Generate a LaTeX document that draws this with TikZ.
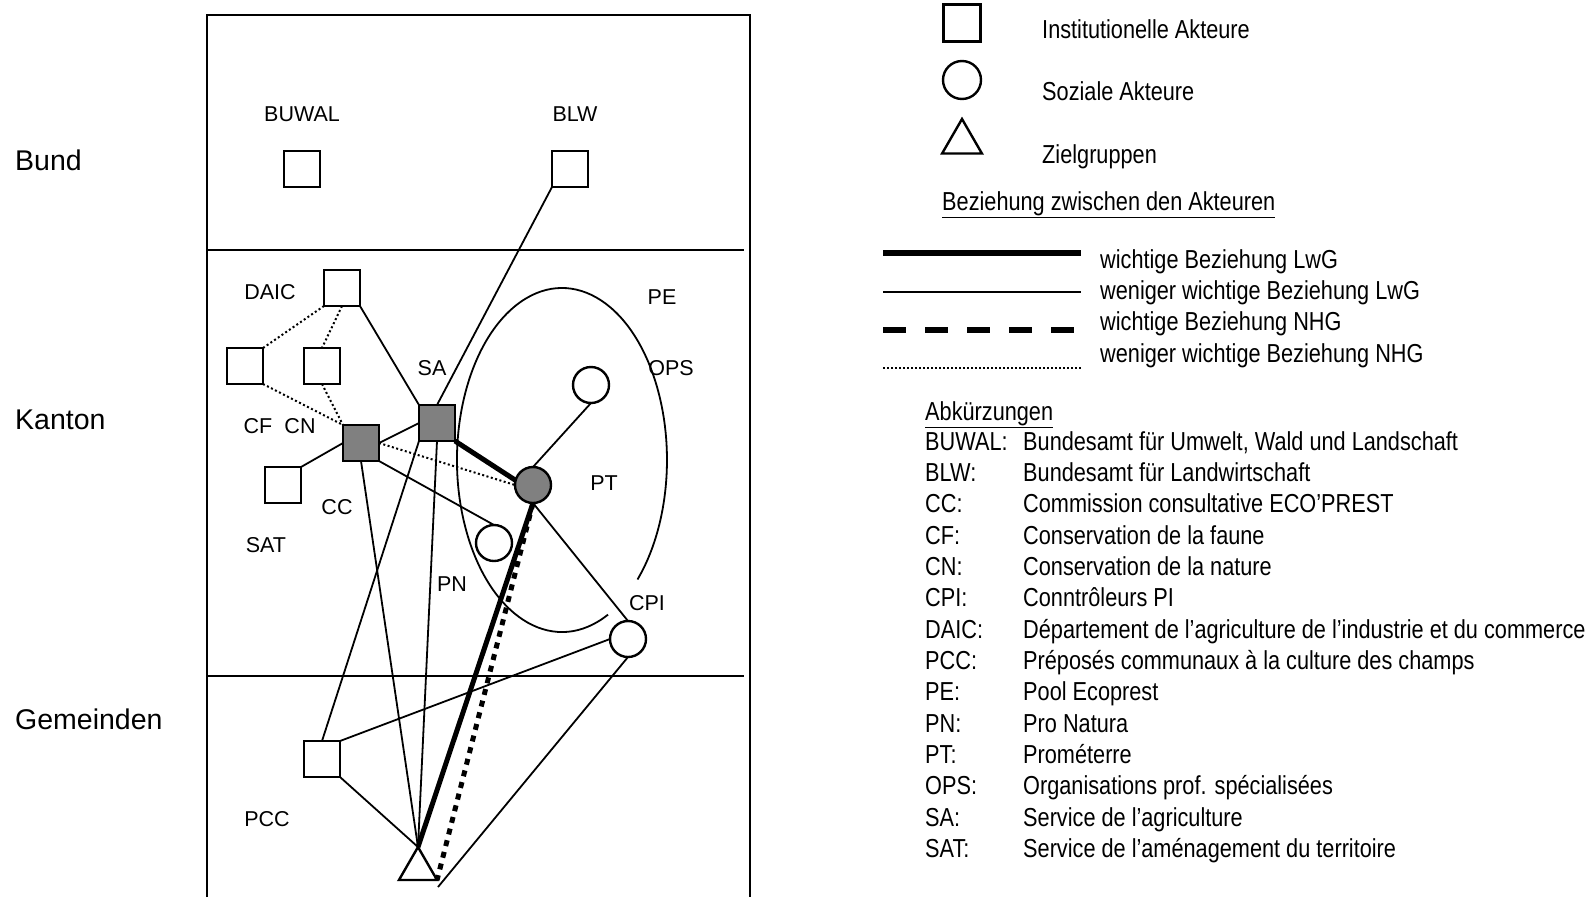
\documentclass[tikz,border=0pt]{standalone}
\usepackage{fontspec}
\setmainfont{Liberation Sans}
\newfontfamily\narrowfont[FakeStretch=0.835]{Liberation Sans}
\usetikzlibrary{shapes.geometric}

\tikzset{
  inst/.style={draw, line width=2.6pt, minimum size=36pt, inner sep=0pt, outer sep=0pt},
  sozial/.style={draw, circle, line width=2.4pt, minimum size=36pt, inner sep=0pt, outer sep=0pt},
  ziel/.style={draw, regular polygon, regular polygon sides=3, line width=2.4pt, minimum size=44pt, inner sep=0pt, outer sep=0pt},
  lbl/.style={font=\fontsize{21.5}{24}\selectfont, inner sep=0pt},
  ebene/.style={font=\fontsize{28.5}{32}\selectfont, anchor=west, inner sep=0pt},
  leg/.style={font=\narrowfont\fontsize{26}{30}\selectfont, anchor=base west, inner sep=0pt},
  lwg/.style={line width=5pt},
  lwgklein/.style={line width=1.8pt},
  nhg/.style={line width=5pt, dash pattern=on 6pt off 6pt},
  nhgklein/.style={line width=2pt, dash pattern=on 2pt off 2.5pt},
}

\begin{document}
\begin{tikzpicture}[x=1pt, y=-1pt]
\useasboundingbox (0,0) rectangle (1594,897);

% Ebenen
\draw[line width=1.8pt] (207,897) |- (750,15) -- (750,897);
\draw[line width=1.8pt] (207,250) -- (744,250);
\draw[line width=1.8pt] (207,676) -- (744,676);
\node[ebene] (bund) at (15,160) {Bund};
\node[ebene] (kanton) at (15,420) {Kanton};
\node[ebene] (gemeinden) at (15,719) {Gemeinden};

% Pool Ecoprest
\draw[line width=1.8pt] (608.0,614.6) arc[start angle=64, end angle=404, x radius=105, y radius=172];

% Akteure
\node[inst] (BUWAL) at (302,169) {};
\node[inst] (BLW) at (570,169) {};
\node[inst] (DAIC) at (342,288) {};
\node[inst] (CF) at (245,366) {};
\node[inst] (CN) at (322,366) {};
\node[inst, fill=gray] (SA) at (437,423) {};
\node[inst, fill=gray] (CC) at (361,443) {};
\node[inst] (SAT) at (283,485) {};
\node[inst] (PCC) at (322,759) {};
\node[sozial] (OPS) at (591,385) {};
\node[sozial, fill=gray] (PT) at (533,485) {};
\node[sozial] (PN) at (494,543) {};
\node[sozial] (CPI) at (628,639) {};
\node[ziel] (ZG) at (418,869) {};
\coordinate (zgend) at (438,887);

\node[lbl] (lBUWAL) at (302,114) {BUWAL};
\node[lbl] (lBLW) at (575,114) {BLW};
\node[lbl] (lDAIC) at (270,292) {DAIC};
\node[lbl] (lSA) at (432,368) {SA};
\node[lbl] (lCF) at (258,426) {CF};
\node[lbl] (lCN) at (300,426) {CN};
\node[lbl] (lCC) at (337,507) {CC};
\node[lbl] (lSAT) at (266,545) {SAT};
\node[lbl] (lPCC) at (267,819) {PCC};
\node[lbl] (lPE) at (662,297) {PE};
\node[lbl] (lOPS) at (671,368) {OPS};
\node[lbl] (lPT) at (604,483) {PT};
\node[lbl] (lPN) at (452,584) {PN};
\node[lbl] (lCPI) at (647,603) {CPI};

% Beziehungen
\draw[lwgklein] (BLW.south west) -- (SA.north);
\draw[nhgklein] (DAIC.south west) -- (CF.north east);
\draw[nhgklein] (DAIC.south) -- (CN.north);
\draw[lwgklein] (DAIC.south east) -- (SA.north west);
\draw[nhgklein] (CF.south east) -- (CC.north west);
\draw[nhgklein] (CN.south) -- (CC.north west);
\draw[lwgklein] (CC.east) -- (SA.west);
\draw[lwgklein] (SAT.north east) -- (CC.west);
\draw[nhgklein] (CC.east) -- (PT.west);
\draw[lwg] (SA.south east) -- (PT.165);
\draw[lwgklein] (CC.south east) -- (PN.north);
\draw[lwgklein] (OPS.south) -- (PT.north);
\draw[lwgklein] (PT.south) -- (CPI.north);
\draw[lwg] (PT.south) -- (ZG.corner 1);
\draw[nhg] (PT.south) -- (ZG.corner 3);
\draw[lwgklein] (CC.south) -- (ZG.corner 1);
\draw[lwgklein] (SA.south) -- (ZG.corner 1);
\draw[lwgklein] (SA.south west) -- (PCC.north);
\draw[lwgklein] (PCC.north east) -- (CPI.west);
\draw[lwgklein] (PCC.south east) -- (ZG.corner 1);
\draw[lwgklein] (CPI.south) -- (zgend);

% Legende
\node[inst, minimum size=37.5pt] (legInst) at (962,23) {};
\node[sozial, minimum size=38pt] (legSoz) at (962,80) {};
\node[ziel, minimum size=46pt] (legZiel) at (962,142) {};
\node[leg] (tInst) at (1042,38) {Institutionelle Akteure};
\node[leg] (tSoz) at (1042,100) {Soziale Akteure};
\node[leg] (tZiel) at (1042,163) {Zielgruppen};
\node[leg] (tBez) at (942,210) {\underline{Beziehung zwischen den Akteuren}};

\draw[line width=6.5pt] (883,253) -- (1081,253);
\draw[line width=2.5pt] (883,292) -- (1081,292);
\draw[line width=5.5pt, dash pattern=on 23pt off 19pt] (883,330) -- (1081,330);
\draw[line width=2pt, dash pattern=on 1.5pt off 2.5pt] (883,368) -- (1081,368);
\node[leg] (t1) at (1100,268) {wichtige Beziehung LwG};
\node[leg] (t2) at (1100,299) {weniger wichtige Beziehung LwG};
\node[leg] (t3) at (1100,330) {wichtige Beziehung NHG};
\node[leg] (t4) at (1100,362) {weniger wichtige Beziehung NHG};

% Abkuerzungen
\node[leg] (tAbk) at (925,420) {\underline{Abkürzungen}};
\foreach \ab/\txt [count=\i from 0] in {
  BUWAL:/{Bundesamt für Umwelt, Wald und Landschaft},
  BLW:/{Bundesamt für Landwirtschaft},
  CC:/{Commission consultative ECO’PREST},
  CF:/{Conservation de la faune},
  CN:/{Conservation de la nature},
  CPI:/{Conntrôleurs PI},
  DAIC:/{Département de l’agriculture de l’industrie et du commerce},
  PCC:/{Préposés communaux à la culture des champs},
  PE:/{Pool Ecoprest},
  PN:/{Pro Natura},
  PT:/{Prométerre},
  OPS:/{Organisations prof. spécialisées},
  SA:/{Service de l’agriculture},
  SAT:/{Service de l’aménagement du territoire}} {
  \node[leg] (ab\i) at (925,{450+31.36*\i}) {\ab};
  \node[leg] (tx\i) at (1023,{450+31.36*\i}) {\txt};
}
\end{tikzpicture}
\end{document}
